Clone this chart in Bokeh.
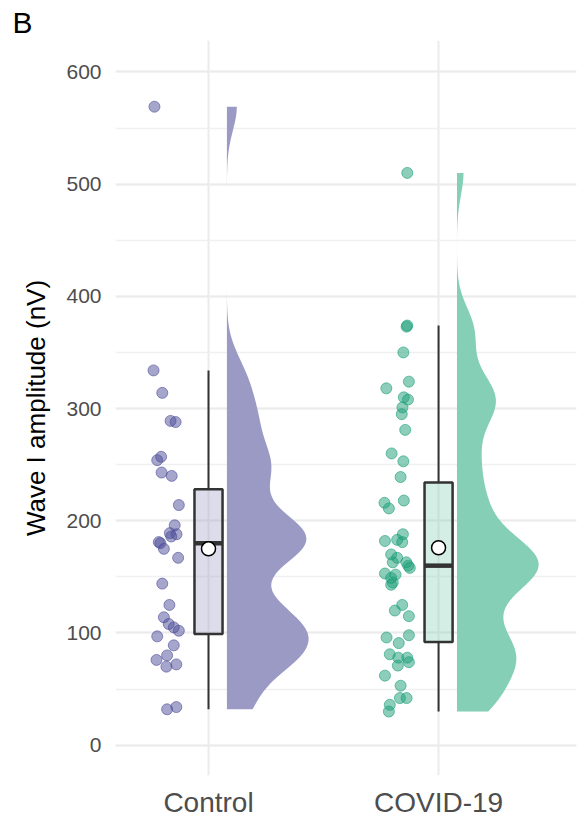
import numpy as np
from bokeh.plotting import figure
from bokeh.models import Range1d, FixedTicker, SingleIntervalTicker
from bokeh.embed import file_html
from bokeh.resources import INLINE

# ---------------- data ----------------
groups = ["Control", "COVID-19"]

control_values = [569, 334, 314, 289, 288, 257, 254, 243, 240, 214, 196, 189, 188, 186,
                  181, 180, 175, 167, 144, 125, 114, 108, 105, 102, 97, 89, 80, 76, 72,
                  70, 34, 32]
control_jitter = [-0.235, -0.239, -0.201, -0.165, -0.143, -0.206, -0.223, -0.204, -0.160,
                  -0.129, -0.147, -0.168, -0.139, -0.162, -0.216, -0.209, -0.194, -0.132,
                  -0.201, -0.170, -0.194, -0.173, -0.151, -0.129, -0.223, -0.151, -0.180,
                  -0.226, -0.140, -0.183, -0.140, -0.180]

covid_values = [510, 374, 373, 350, 324, 318, 310, 308, 301, 295, 281, 260, 253, 239, 218,
                216, 211, 188, 183, 182, 181, 170, 167, 163, 163, 160, 158, 153, 152, 149,
                145, 143, 125, 120, 115, 98, 96, 91, 81, 78, 78, 74, 71, 62, 53, 42, 42,
                36, 30]
covid_jitter = [-0.136, -0.136, -0.139, -0.153, -0.129, -0.227, -0.151, -0.133, -0.157,
                -0.160, -0.145, -0.204, -0.153, -0.165, -0.151, -0.235, -0.216, -0.155,
                -0.180, -0.233, -0.158, -0.206, -0.180, -0.199, -0.140, -0.132, -0.125,
                -0.233, -0.187, -0.206, -0.199, -0.206, -0.158, -0.190, -0.129, -0.129,
                -0.226, -0.173, -0.212, -0.175, -0.136, -0.129, -0.177, -0.233, -0.165,
                -0.168, -0.139, -0.212, -0.216]

box_q1 = [99, 92]
box_median = [180, 160]
box_q3 = [228, 234]
whisker_low = [32, 30]
whisker_high = [334, 374]
group_means = [175, 176]

# ---------------- styling ----------------
violin_colors = ["#9a9ac5", "#84cfb6"]
point_colors = ["#4d4d99", "#1b9e77"]
FONT = "Liberation Sans"

p = figure(width=579, height=821,
           x_range=Range1d(0.5957, 2.5996), y_range=Range1d(-27, 628),
           output_backend="svg", toolbar_location=None,
           min_border_left=115, min_border_right=3, min_border_top=40,
           min_border_bottom=46)
p.outline_line_color = None
p.background_fill_color = "white"
p.border_fill_color = "white"

p.title.text = "B"
p.title.text_font = FONT
p.title.text_font_size = "30px"
p.title.text_font_style = "normal"
p.title.text_color = "black"
p.title.align = "left"
p.title.offset = -103
p.title.standoff = 3

# axes
p.yaxis.ticker = SingleIntervalTicker(interval=100, num_minor_ticks=2)
p.yaxis.axis_label = "Wave I amplitude (nV)"
p.yaxis.axis_label_text_font = FONT
p.yaxis.axis_label_text_font_size = "26px"
p.yaxis.axis_label_text_font_style = "normal"
p.yaxis.axis_label_text_color = "black"
p.yaxis.axis_label_standoff = 12
p.yaxis.major_label_text_font = FONT
p.yaxis.major_label_text_font_size = "21px"
p.yaxis.major_label_text_color = "#4d4d4d"
p.yaxis.major_label_standoff = 8

p.xaxis.ticker = FixedTicker(ticks=[1, 2])
p.xaxis.major_label_overrides = {1: groups[0], 2: groups[1]}
p.xaxis.major_label_text_font = FONT
p.xaxis.major_label_text_font_size = "28px"
p.xaxis.major_label_text_color = "#4d4d4d"
p.xaxis.major_label_standoff = 5

for ax in (p.xaxis, p.yaxis):
    ax.axis_line_color = None
    ax.major_tick_line_color = None
    ax.minor_tick_line_color = None

p.ygrid.grid_line_color = "#ebebeb"
p.ygrid.grid_line_width = 2
p.ygrid.minor_grid_line_color = "#f0f0f0"
p.ygrid.minor_grid_line_width = 1.5
p.xgrid.grid_line_color = "#ebebeb"
p.xgrid.grid_line_width = 2


def kde_curve(vals):
    v = np.asarray(vals, dtype=float)
    n = len(v)
    sd = v.std(ddof=1)
    iqr = np.subtract(*np.percentile(v, [75, 25]))
    bw = 0.9 * min(sd, iqr / 1.34) * n ** -0.2 * 0.45
    grid = np.linspace(v.min(), v.max(), 400)
    dens = np.exp(-0.5 * ((grid[:, None] - v[None, :]) / bw) ** 2).sum(axis=1)
    return grid, dens / dens.max()


all_values = [control_values, covid_values]
all_jitter = [control_jitter, covid_jitter]
box_w = 0.122
violin_base = 0.08
violin_w = 0.355

for i in range(2):
    cx = i + 1
    # half violin
    grid, dens = kde_curve(all_values[i])
    xs = np.concatenate([[cx + violin_base], cx + violin_base + dens * violin_w,
                         [cx + violin_base]])
    ys = np.concatenate([[grid[0]], grid, [grid[-1]]])
    p.patch(xs, ys, fill_color=violin_colors[i], line_color=None)

    # whiskers
    p.segment(x0=[cx, cx], y0=[whisker_low[i], box_q3[i]],
              x1=[cx, cx], y1=[box_q1[i], whisker_high[i]],
              line_color="#333333", line_width=2)
    # box
    p.quad(left=[cx - box_w / 2], right=[cx + box_w / 2],
           bottom=[box_q1[i]], top=[box_q3[i]],
           fill_color=violin_colors[i], fill_alpha=0.35,
           line_color="#333333", line_width=2.5)
    # median
    p.segment(x0=[cx - box_w / 2], y0=[box_median[i]],
              x1=[cx + box_w / 2], y1=[box_median[i]],
              line_color="#333333", line_width=4.5)
    # jittered points
    px = [cx + j for j in all_jitter[i]]
    p.scatter(px, all_values[i], size=11, fill_color=point_colors[i], fill_alpha=0.5,
              line_color=point_colors[i], line_alpha=0.6, line_width=1)
    # mean
    p.scatter([cx], [group_means[i]], size=14, fill_color="white",
              line_color="black", line_width=1.5)

open("out.html", "w").write(file_html(p, INLINE))
